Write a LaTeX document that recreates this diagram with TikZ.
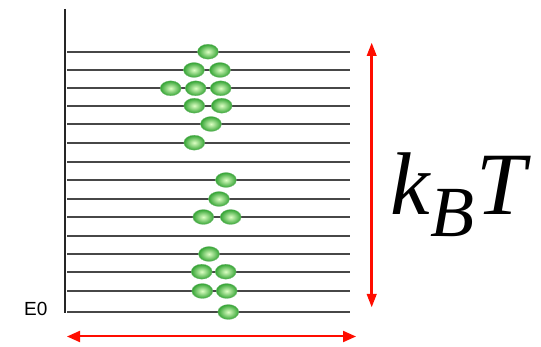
\documentclass[tikz,border=0pt]{standalone}
\usepackage{fontspec}
\setmainfont{Liberation Serif}
\newfontfamily\labsans{Liberation Sans}
\usetikzlibrary{arrows.meta,shapes.geometric}
\begin{document}
\begin{tikzpicture}[x=1pt,y=-1pt,
  level/.style={draw=black!72, line width=1.7pt},
  ball/.style={ellipse, minimum width=21pt, minimum height=15pt, inner sep=0pt,
    inner color=green!15!white!90!yellow, outer color=green!55!black!80!white, draw=green!50!black!50, line width=0.3pt},
  redarrow/.style={draw=red!90!orange, line width=3.5pt, {Triangle[width=9pt,length=14pt]}-{Triangle[width=9pt,length=14pt]}},
  redarrowthin/.style={draw=red!90!orange, line width=2pt, {Triangle[width=11pt,length=13pt]}-{Triangle[width=11pt,length=13pt]}}
]
\useasboundingbox (0,0) rectangle (541,347);
% axis
\coordinate (axtop) at (65,9);
\coordinate (axbot) at (65,313);
\draw[black!85, line width=1.5pt] (axtop) -- (axbot);
% levels
\foreach \i/\y in {1/51.7,2/70,3/88.3,4/105.7,5/124,6/142.7,7/162,8/180,9/199,10/217,11/236.3,12/254,13/271.7,14/291,15/312}{
  \coordinate (l\i a) at (67,\y);
  \coordinate (l\i b) at (350,\y);
  \draw[level] (l\i a) -- (l\i b);
}
% particles
\foreach \n/\x/\y in {p1/208/51.7, p2/194/70, p3/220/70, p4/170.7/88.3, p5/195.7/88.3, p6/220.7/88.3,
  p7/194.3/105.7, p8/221.7/105.7, p9/211/124, p10/194.3/142.7, p11/226/180, p12/219/199,
  p13/203.3/217, p14/230.7/217, p15/209/254, p16/201.7/271.7, p17/225.7/271.7,
  p18/202.3/291, p19/226.7/291, p20/228.3/312}{
  \node[ball] (\n) at (\x,\y) {};
}
% E0 label
\node[font=\labsans\fontsize{19}{19}\selectfont, anchor=base west, inner sep=0pt] (e0) at (24,316) {E0};
% red arrows
\coordinate (vtop) at (371.7,42);
\coordinate (vbot) at (371.7,308);
\draw[redarrow] (vtop) -- (vbot);
\coordinate (hl) at (67,336.5);
\coordinate (hr) at (356,336.5);
\draw[redarrowthin] (hl) -- (hr);
% kBT
\node[anchor=base west, inner sep=0pt] (kbt) at (390,215)
  {\fontsize{89}{89}\selectfont\itshape k\kern1pt\raisebox{-22pt}{\fontsize{72}{72}\selectfont B}\kern2pt T};
\end{tikzpicture}
\end{document}
